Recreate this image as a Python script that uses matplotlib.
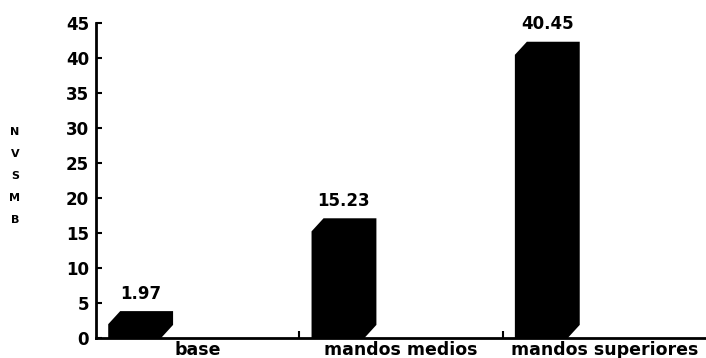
import numpy as np
import matplotlib
matplotlib.use("Agg")
import matplotlib.pyplot as plt

categories = ["base", "mandos medios", "mandos superiores"]
values = [1.97, 15.23, 40.45]
value_labels = ["1.97", "15.23", "40.45"]
yticks = [0, 5, 10, 15, 20, 25, 30, 35, 40, 45]
ylabel_letters = ["N", "V", "S", "M", "B"]

plt.rcParams['font.family'] = ['DejaVu Sans']
plt.rcParams['font.weight'] = 'bold'

fig = plt.figure(figsize=(7.06, 3.58), dpi=100)
ax = fig.add_axes([0.136, 0.0559, 0.864, 0.8799])
ax.set_xlim(0, 3)
ax.set_ylim(0, 45)

# pseudo-3d bars: front face plus oblique depth, all black
off, w = 0.06, 0.26
dx, dy = 0.059, 1.87
for i, v in enumerate(values):
    x0 = i + off
    x1 = x0 + w
    xs = [x0, x0, x0 + dx, x1 + dx, x1 + dx, x1]
    ys = [0, v, v + dy, v + dy, dy, 0]
    ax.fill(xs, ys, color='black', lw=0, clip_on=False, zorder=3)
    ax.annotate(value_labels[i], (x0 + (w + dx) / 2, v + dy),
                xytext=(0, 6), textcoords='offset points',
                ha='center', va='bottom', fontsize=12, fontweight='bold')

for s in ['top', 'right']:
    ax.spines[s].set_visible(False)
ax.spines['left'].set_linewidth(2)
ax.spines['bottom'].set_linewidth(2)

ax.set_yticks(yticks)
ax.tick_params(axis='y', direction='in', length=4, width=1.5, pad=5,
               labelsize=12)
ax.set_xticks([1, 2])
ax.set_xticklabels([])
ax.tick_params(axis='x', which='major', direction='in', length=5, width=1.5)
ax.set_xticks(np.arange(len(categories)) + 0.5, minor=True)
ax.set_xticklabels(categories, minor=True, fontsize=12.5, fontweight='bold')
ax.tick_params(axis='x', which='minor', length=0, pad=2)
for lab in ax.get_yticklabels():
    lab.set_fontweight('bold')

# stacked letters of the y axis title
for k, ch in enumerate(ylabel_letters):
    fig.text(15 / 706, 1 - (132 + 22 * k) / 358, ch, ha='center', va='center',
             fontsize=8, fontweight='bold')

fig.savefig("out.png", dpi=100)
